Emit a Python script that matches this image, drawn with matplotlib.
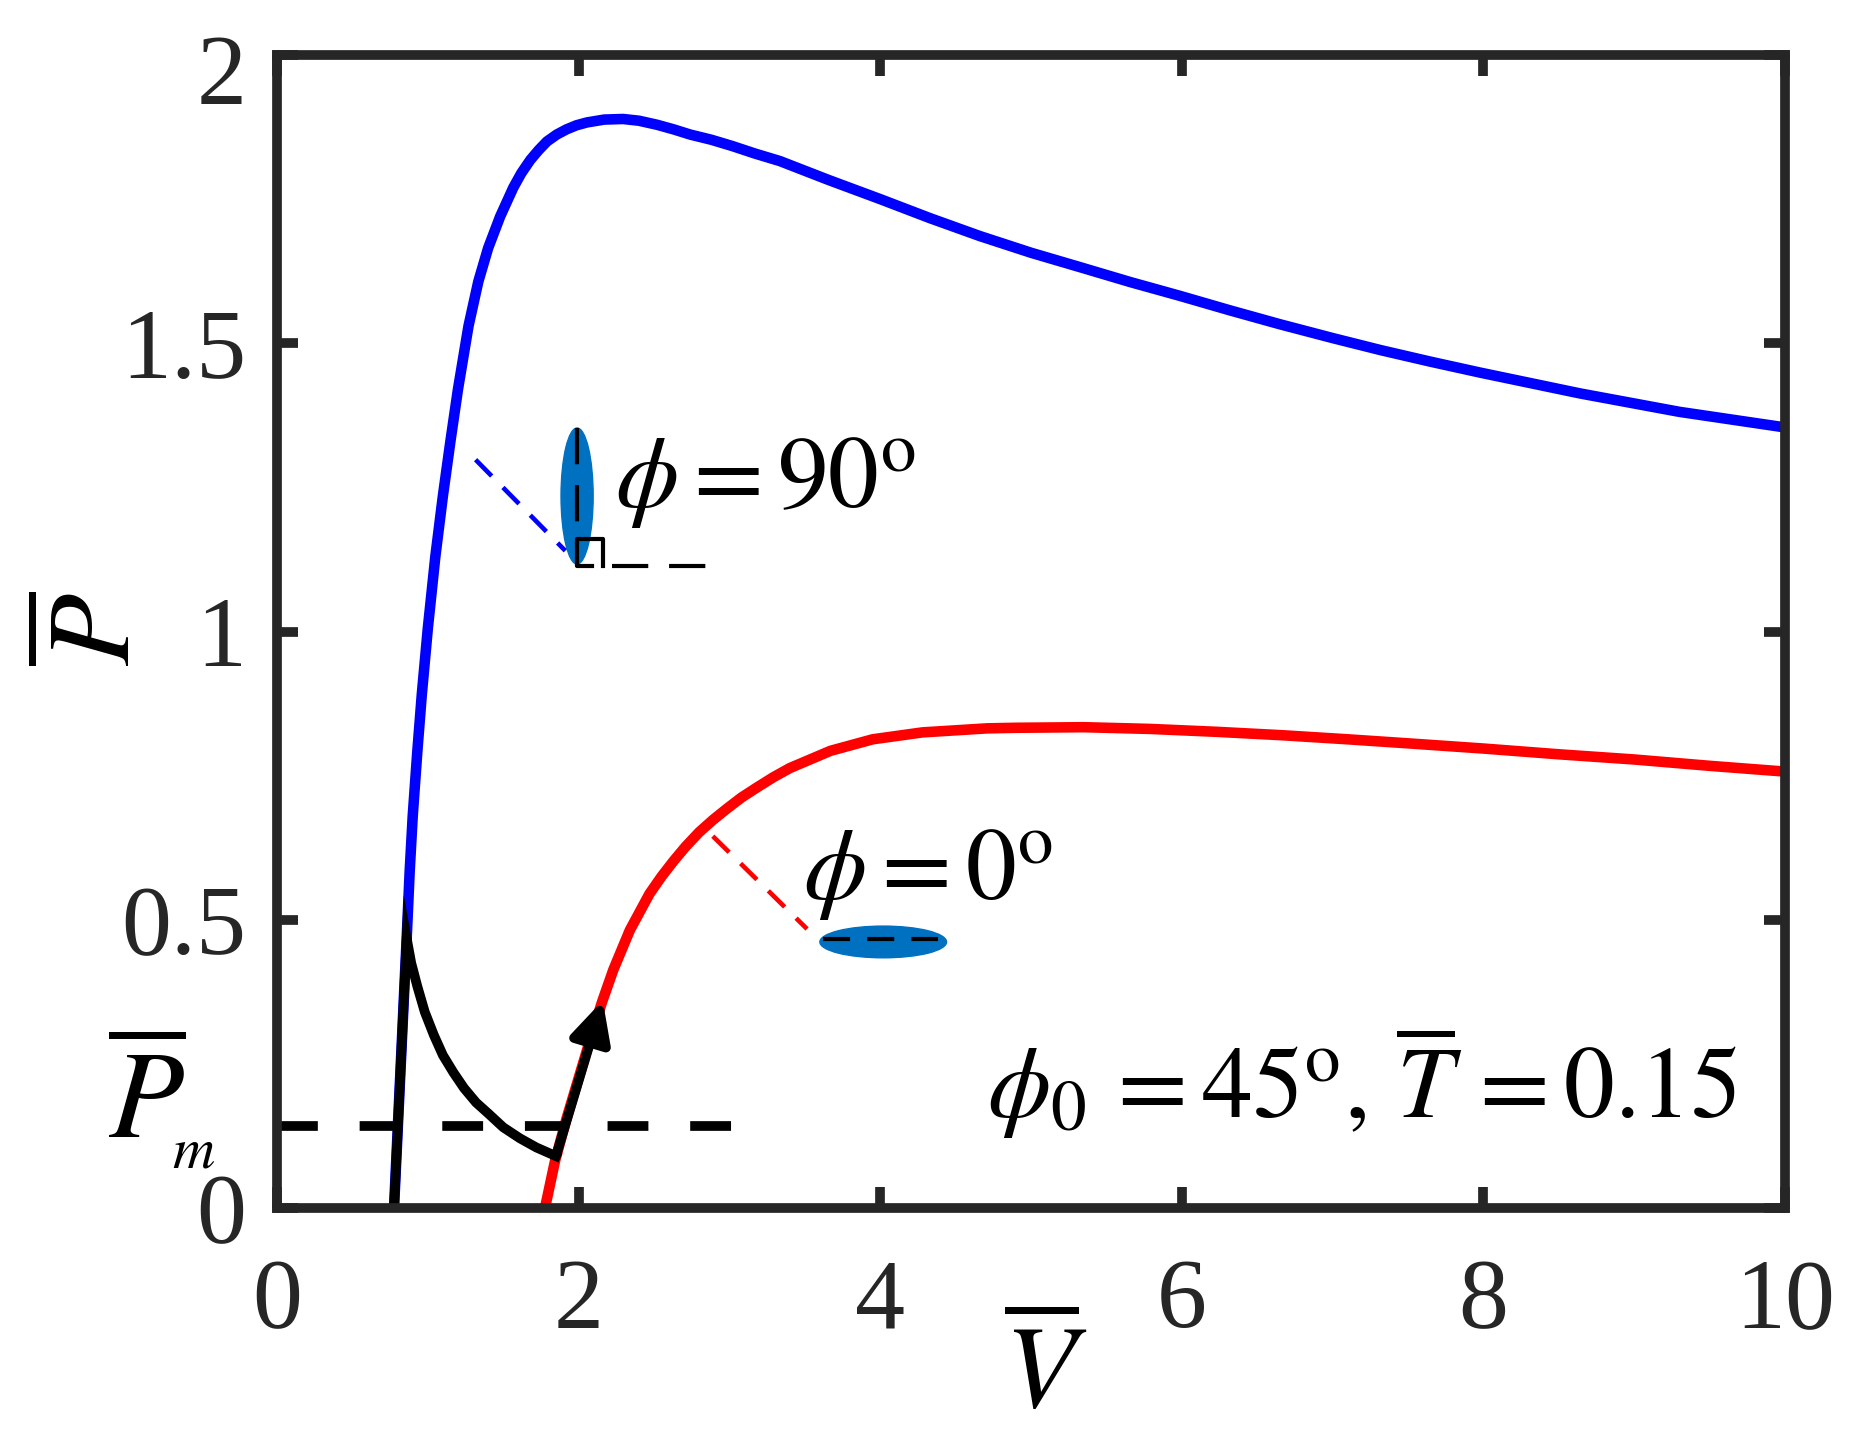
import matplotlib
matplotlib.use('Agg')
import matplotlib.pyplot as plt
from matplotlib.patches import Ellipse
from matplotlib.transforms import ScaledTranslation

plt.rcParams['font.family'] = ['Liberation Serif', 'DejaVu Serif']
plt.rcParams['mathtext.fontset'] = 'stix'

# values
blue_v = [0.776, 0.86, 0.88, 0.90, 0.93, 0.96, 1.0, 1.05, 1.10, 1.15, 1.20, 1.27, 1.335, 1.40, 1.48, 1.567, 1.62, 1.68,
          1.735, 1.79, 1.855, 1.92, 1.985, 2.055, 2.17, 2.295, 2.40, 2.52, 2.63, 2.74, 2.88, 3.02, 3.17, 3.335, 3.66, 4.0,
          4.33, 4.66, 5.0, 5.325, 5.66, 5.99, 6.32, 6.65, 7.0, 7.32, 7.65, 7.98, 8.64, 9.3, 10.0]
blue_p = [0.0, 0.468, 0.585, 0.68, 0.79, 0.89, 1.005, 1.13, 1.235, 1.33, 1.42, 1.53, 1.607, 1.665, 1.72, 1.77, 1.795, 1.818,
          1.835, 1.85, 1.862, 1.871, 1.878, 1.883, 1.888, 1.889, 1.886, 1.879, 1.871, 1.862, 1.853, 1.842, 1.829, 1.816, 1.783, 1.75,
          1.717, 1.686, 1.657, 1.632, 1.606, 1.582, 1.557, 1.533, 1.509, 1.488, 1.468, 1.449, 1.413, 1.381, 1.354]
red_v = [1.777, 1.844, 1.92, 2.0, 2.08, 2.155, 2.23, 2.34, 2.47, 2.55, 2.63, 2.71, 2.80, 2.89, 2.985, 3.08, 3.18, 3.29, 3.40,
         3.67, 3.95, 4.28, 4.71, 4.9, 5.35, 5.79, 6.23, 6.67, 7.1, 7.5, 8.0, 8.5, 9.0, 9.5, 10.0]
red_p = [0.0, 0.082, 0.155, 0.225, 0.295, 0.357, 0.413, 0.482, 0.545, 0.575, 0.602, 0.627, 0.652, 0.673, 0.693, 0.712, 0.729, 0.747, 0.763,
         0.793, 0.813, 0.825, 0.832, 0.833, 0.834, 0.831, 0.826, 0.82, 0.813, 0.806, 0.797, 0.787, 0.778, 0.767, 0.757]
path_v = [0.776, 0.86, 0.89, 0.93, 0.98, 1.04, 1.10, 1.17, 1.24, 1.32, 1.405, 1.5, 1.61, 1.72, 1.85]
path_p = [0.0, 0.468, 0.425, 0.385, 0.34, 0.30, 0.265, 0.235, 0.208, 0.183, 0.163, 0.14, 0.121, 0.105, 0.09]
arrow_start = (1.85, 0.09)
arrow_end = (2.16, 0.36)
p_m = 0.142
x_ticks = [0, 2, 4, 6, 8, 10]
y_ticks = [0, 0.5, 1, 1.5, 2]
y_labels = ['0', '0.5', '1', '1.5', '2']

W, H = 1853, 1441
fig = plt.figure(figsize=(W / 100, H / 100), dpi=100)
ax = fig.add_axes([277 / W, 1 - 1208 / H, (1785 - 277) / W, (1208 - 55) / H])

ax.plot(blue_v, blue_p, color='#0000ff', lw=7.6, solid_joinstyle='round')
ax.plot(red_v, red_p, color='#ff0000', lw=7.6, solid_joinstyle='round')
ax.plot(path_v, path_p, color='black', lw=7, solid_joinstyle='miter')
ax.annotate('', xy=arrow_end, xytext=arrow_start,
            arrowprops=dict(arrowstyle='-|>,head_width=0.5,head_length=1.0', color='black', lw=7,
                            shrinkA=0, shrinkB=0, mutation_scale=24))
ax.plot([0, 3.02], [p_m, p_m], color='black', lw=7, dashes=(4.2, 4.3), dash_capstyle='butt')

# small ellipses with their axes
ax.add_patch(Ellipse((1.99, 1.235), 0.213, 0.236, color='#0070c0', zorder=2))
ax.add_patch(Ellipse((4.02, 0.4615), 0.84, 0.055, color='#0070c0', zorder=2))
ax.plot([1.99, 1.99], [1.353, 1.15], color='black', lw=3, dashes=(8.7, 5), dash_capstyle='butt', zorder=3)
ax.plot([3.62, 4.38], [0.467, 0.467], color='black', lw=3, dashes=(6.5, 4.1), dash_capstyle='butt', zorder=3)
ax.plot([2.22, 2.88], [1.114, 1.114], color='black', lw=3, dashes=(8.7, 5), dash_capstyle='butt', zorder=3)
ax.plot([2.09, 1.99, 1.99, 2.16, 2.16], [1.114, 1.114, 1.16, 1.16, 1.114], color='black', lw=3, zorder=3)
ax.plot([1.317, 1.912], [1.298, 1.14], color='#0000ff', lw=3.3, dashes=(5, 3.5), dash_capstyle='butt')
ax.plot([2.89, 3.515], [0.645, 0.484], color='#ff0000', lw=3.3, dashes=(5, 3.5), dash_capstyle='butt')

ax.set_xlim(0, 10)
ax.set_ylim(0, 2)
ax.set_xticks(x_ticks)
ax.set_yticks(y_ticks)
ax.set_yticklabels(y_labels)
ax.tick_params(direction='in', top=True, right=True, length=15, width=7, color='#262626',
               labelsize=72, labelcolor='#262626')
ax.tick_params(axis='x', pad=36)
ax.tick_params(axis='y', pad=22)
for s in ax.spines.values():
    s.set_linewidth(7)
    s.set_color('#262626')
# top label sits a little below its tick
top_lbl = ax.get_yticklabels()[-1]
top_lbl.set_transform(top_lbl.get_transform() + ScaledTranslation(0, -0.14, fig.dpi_scale_trans))

txt = dict(fontsize=73, color='black', va='baseline', ha='left')
ax.text(2.24, 1.216, r'$\phi=90^{\mathrm{o}}$', **txt)
ax.text(3.49, 0.536, r'$\phi=0^{\mathrm{o}}$', **txt)
ax.text(4.71, 0.156, r'$\phi_0\,=45^{\mathrm{o}},\,\overline{T}\,=0.15$', **txt)

fig.text(108 / W, 1 - 1138 / H, r'$\overline{P}$', fontsize=89, ha='left', va='baseline')
fig.text(172 / W, 1 - 1168 / H, r'$m$', fontsize=42, ha='left', va='baseline')
fig.text(885 / 1568, 1 - 1164 / 1219, r'$\overline{V}$', fontsize=85, ha='center', va='center')
fig.text(84 / 1568, 1 - 532 / 1219, r'$\overline{P}$', fontsize=85, ha='center', va='center', rotation=90)

fig.savefig('out.png', dpi=100)
